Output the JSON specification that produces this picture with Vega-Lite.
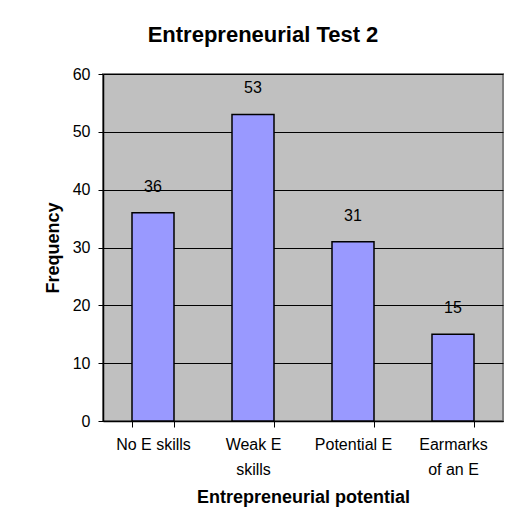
{
  "$schema": "https://vega.github.io/schema/vega-lite/v6.json",
  "autosize": {"type": "none"},
  "width": 400,
  "height": 347,
  "padding": {"left": 103, "top": 74, "right": 10, "bottom": 101},
  "background": "white",
  "title": {
    "text": "Entrepreneurial Test 2",
    "font": "Liberation Sans",
    "fontSize": 22,
    "fontWeight": "bold",
    "color": "black",
    "anchor": "middle",
    "dx": -40,
    "offset": 19
  },
  "data": {
    "values": [
      {"potential": "No E skills", "frequency": 36},
      {"potential": "Weak E skills", "frequency": 53},
      {"potential": "Potential E", "frequency": 31},
      {"potential": "Earmarks of an E", "frequency": 15}
    ]
  },
  "encoding": {
    "x": {
      "field": "potential",
      "type": "nominal",
      "sort": null,
      "scale": {"paddingInner": 0.58, "paddingOuter": 0.29},
      "axis": {
        "title": "Entrepreneurial potential",
        "titleFont": "Liberation Sans",
        "titleFontSize": 18,
        "titleFontWeight": "bold",
        "titleColor": "black",
        "titlePadding": 11,
        "labelFont": "Liberation Sans",
        "labelFontSize": 16,
        "labelColor": "black",
        "labelAngle": 0,
        "labelPadding": 9,
        "labelLineHeight": 25,
        "labelExpr": "datum.value == 'Weak E skills' ? ['Weak E', 'skills'] : datum.value == 'Earmarks of an E' ? ['Earmarks', 'of an E'] : datum.value",
        "tickBand": "extent",
        "tickSize": 6,
        "tickColor": "black",
        "domainColor": "black",
        "domainWidth": 1.5,
        "grid": false
      }
    },
    "y": {
      "field": "frequency",
      "type": "quantitative",
      "scale": {"domain": [0, 60], "nice": false},
      "axis": {
        "title": "Frequency",
        "titleFont": "Liberation Sans",
        "titleFontSize": 18,
        "titleFontWeight": "bold",
        "titleColor": "black",
        "titlePadding": 10,
        "labelFont": "Liberation Sans",
        "labelFontSize": 16,
        "labelColor": "black",
        "labelPadding": 8,
        "values": [0, 10, 20, 30, 40, 50, 60],
        "tickSize": 5,
        "tickColor": "black",
        "domainColor": "black",
        "domainWidth": 1.5,
        "grid": true,
        "gridColor": "black",
        "gridWidth": 1,
        "gridOpacity": 1
      }
    }
  },
  "layer": [
    {
      "mark": {"type": "bar", "fill": "#9999FF", "stroke": "black", "strokeWidth": 1.5}
    },
    {
      "mark": {"type": "text", "baseline": "middle", "dy": -26, "font": "Liberation Sans", "fontSize": 16, "color": "black"},
      "encoding": {"text": {"field": "frequency", "type": "quantitative"}}
    }
  ],
  "config": {
    "view": {"fill": "#C0C0C0", "stroke": "#808080", "strokeWidth": 2}
  }
}
